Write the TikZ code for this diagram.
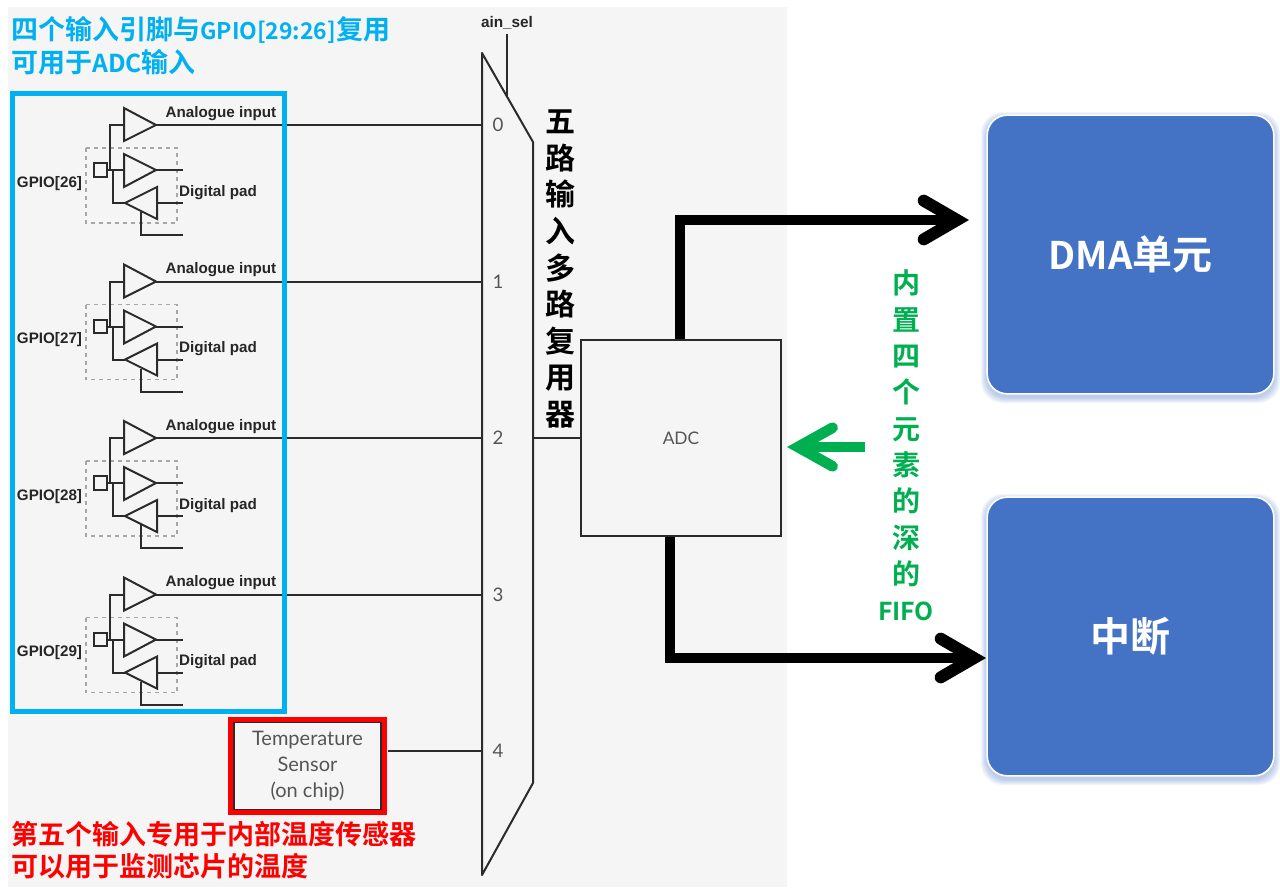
\documentclass[tikz,border=0pt]{standalone}
\usepackage{fontspec}
\setmainfont{Liberation Sans}
\newfontfamily\cjk{Noto Sans CJK SC}[BoldFont={Noto Sans CJK SC Bold}]
\newfontfamily\lightfont{Lato}
\usetikzlibrary{arrows.meta}
\definecolor{bggray}{HTML}{F5F5F5}
\definecolor{wirecol}{HTML}{2B2B2B}
\definecolor{txtgray}{HTML}{555555}
\definecolor{blockblue}{HTML}{4472C4}
\definecolor{capblue}{HTML}{00B0F0}
\definecolor{capgreen}{HTML}{00B050}
\newcommand{\smallfs}{\fontsize{18.5}{18.5}\selectfont}
\tikzset{
    wire/.style={draw=wirecol, line width=1.5pt},
    padbox/.style={draw=gray!70, dashed, line width=0.9pt},
    padlabel/.style={font=\bfseries\fontsize{11.4}{14}\selectfont, text=black!85},
    portlabel/.style={font=\lightfont\fontsize{14}{14}\selectfont, text=txtgray},
    cnbold/.style={font=\cjk\bfseries\fontsize{#1}{#1}\selectfont},
    capline/.style={cnbold=20.25, anchor=west, inner sep=0pt},
    block/.style={draw=white, line width=1.2pt, fill=blockblue, rounded corners=15pt, text=white, minimum width=215pt, minimum height=209pt},
    glow/.style={fill=blockblue, opacity=0.07, rounded corners=16pt},
    bigarrow/.style={line width=7.5pt, line join=miter, -{Straight Barb[line cap=round, line join=miter, line width=9pt, length=25pt, width=29pt]}},
}
\begin{document}
                    \begin{tikzpicture}[x=0.75pt, y=-0.75pt]
                        \useasboundingbox (0,0) rectangle (1280,889);
                        \fill[bggray] (8,7) rectangle (787,887);
                        \coordinate (M1) at (482,53);
                        \coordinate (M2) at (533,142);
                        \coordinate (M3) at (533,783);
                        \coordinate (M4) at (482,875);
                        \draw[wire, line join=round] (M1) -- (M2) -- (M3) -- (M4) -- cycle;
                        \node[font=\bfseries\fontsize{11.5}{13}\selectfont, text=black!85, inner sep=0pt] (ainsel) at (507,22.5) {ain\_sel};
                        \coordinate (seltop) at (507,34);
                        \coordinate (S) at (507,97);
                        \draw[wire] (seltop) -- (S);
                        \foreach \i/\num/\dy in {0/26/0, 1/27/156.5, 2/28/313, 3/29/469.5} {
                            \begin{scope}[shift={(0,\dy)}]
                                \coordinate (A\i) at (124,108);
                                \coordinate (B\i) at (124,141);
                                \coordinate (C\i) at (156,125);
                                \coordinate (D\i) at (124,154);
                                \coordinate (E\i) at (124,187);
                                \coordinate (F\i) at (156,170);
                                \coordinate (G\i) at (157,187);
                                \coordinate (H\i) at (157,219);
                                \coordinate (K\i) at (125,203);
                                \draw[wire] (A\i) -- (B\i) -- (C\i) -- cycle;
                                \draw[wire] (D\i) -- (E\i) -- (F\i) -- cycle;
                                \draw[wire] (G\i) -- (H\i) -- (K\i) -- cycle;
                                \draw[padbox] (86,148) rectangle (177,223);
                                \node[wire, minimum size=10pt, inner sep=0pt] (pad\i) at (100.5,170) {};
                                \draw[wire] (pad\i.east) -- (124,170);
                                \draw[wire] (124,125) -- (110,125) -- (110,170);
                                \draw[wire] (113,170) -- (113,203) -- (K\i);
                                \draw[wire] (F\i) -- (183,170);
                                \draw[wire] (157,203) -- (183,203);
                                \draw[wire] (141,212) -- (141,235) -- (183,235);
                                \coordinate (in\i) at (482,125);
                                \draw[wire] (C\i) -- (in\i);
                                \node[padlabel, inner sep=0pt] (ana\i) at (221,113.5) {Analogue input};
                                \node[padlabel, inner sep=0pt] (gpio\i) at (49.5,183.5) {GPIO[\num]};
                                \node[padlabel, inner sep=0pt] (dig\i) at (218,192.5) {Digital pad};
                                \node[portlabel, inner sep=0pt] (port\i) at (498,125) {\i};
                            \end{scope}
                        }
                        \draw[red, line width=4.3pt] (230.5,720.2) rectangle (384,812);
                        \node[draw=wirecol, line width=1.2pt, fill=bggray, minimum width=110pt, minimum height=65pt, inner sep=0pt, align=center, text=txtgray, font=\lightfont\fontsize{15}{19.5}\selectfont] (temp) at (307.5,766) {Temperature\\Sensor\\(on chip)};
                        \coordinate (in4) at (482,751);
                        \draw[wire] ([xshift=4.5pt]temp.east |- in4) -- (in4);
                        \node[portlabel, inner sep=0pt] (port4) at (498,751) {4};
                        \node[draw=wirecol, line width=1.2pt, fill=bggray, minimum width=150pt, minimum height=147pt, inner sep=0pt, text=txtgray, font=\lightfont\fontsize{13}{15}\selectfont] (adc) at (681,438) {ADC};
                        \coordinate (muxout) at (533,438);
                        \draw[wire] (muxout) -- (adc.west);
                        \draw[capblue, line width=3.75pt] (12.5,93) rectangle (284.5,711.5);
                        \foreach \s in {1,...,6} {
                            \fill[glow] (987-\s,115-\s+3) rectangle (1274+\s,394+\s+3);
                            \fill[glow] (987-\s,497-\s+3) rectangle (1274+\s,776+\s+3);
                        }
                        \node[block] (dma) at (1130.5,254.5) {\cjk\bfseries\fontsize{30}{30}\selectfont{\fontsize{28.5}{30}\selectfont DMA}单元};
                        \node[block] (irq) at (1130.5,636.5) {\cjk\bfseries\fontsize{30}{30}\selectfont 中断};
                        \coordinate (dmatip) at (969,220);
                        \coordinate (irqtip) at (986,658);
                        \draw[bigarrow] (adc.north -| 680,340) -- (680,220) -- (dmatip);
                        \draw[bigarrow] (adc.south -| 670,536) -- (670,658) -- (irqtip);
                        \coordinate (fifostart) at (865,447);
                        \coordinate (fifotip) at (787,447);
                        \draw[capgreen, line width=8pt, -{Straight Barb[line cap=round, line join=miter, line width=8pt, length=26pt, width=29pt]}] (fifostart) -- (fifotip);
                        \node[capline, text=capblue] (captop) at (11,30) {四个输入引脚与{\fontsize{17.2}{18}\selectfont GPIO[29:26]}复用};
                        \node[capline, text=capblue] (capbot) at (11,62) {可用于{\smallfs ADC}输入};
                        \node[capline, text=red] (tempa) at (11,834) {第五个输入专用于内部温度传感器};
                        \node[capline, text=red] (tempb) at (11,866) {可以用于监测芯片的温度};
                        \node[cnbold=22.5, align=center, inner sep=0pt] (muxtxt) at (560.5,269) {五\\[4.9pt]路\\[4.9pt]输\\[4.9pt]入\\[4.9pt]多\\[4.9pt]路\\[4.9pt]复\\[4.9pt]用\\[4.9pt]器};
                        \node[cnbold=21, align=center, text=capgreen, inner sep=0pt] (fifotxt) at (906,445.5) {内\\[6.25pt]置\\[6.25pt]四\\[6.25pt]个\\[6.25pt]元\\[6.25pt]素\\[6.25pt]的\\[6.25pt]深\\[6.25pt]的\\[6.25pt]{\fontsize{18.5}{18.5}\selectfont FIFO}};
                    \end{tikzpicture}
\end{document}
